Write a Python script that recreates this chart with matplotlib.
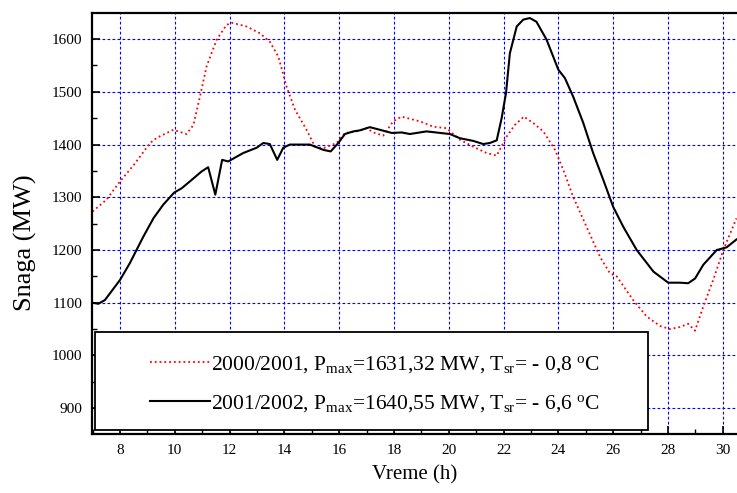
import matplotlib
matplotlib.use('Agg')
import matplotlib.pyplot as plt
from matplotlib.patches import Rectangle
from matplotlib.ticker import MultipleLocator

# Load curves (hour of day, MW)
hours_0001 = [7.0, 7.5, 8.0, 8.5, 9.1, 9.35, 9.95, 10.43, 10.68, 10.92,
              11.16, 11.53, 11.89, 12.08, 12.62, 13.11, 13.47, 13.78, 14.08, 14.39,
              14.81, 15.12, 15.42, 15.91, 16.21, 16.64, 17.0, 17.25, 17.61, 17.97,
              18.28, 18.95, 19.43, 19.92, 20.41, 20.89, 21.38, 21.75, 22.11, 22.41,
              22.74, 23.08, 23.45, 23.88, 24.18, 24.54, 25.03, 25.52, 25.88, 26.13,
              26.73, 27.22, 27.71, 28.07, 28.44, 28.74, 28.99, 29.29, 29.65, 30.02, 30.5]
load_0001 = [1273, 1295, 1330, 1361, 1403, 1413, 1428, 1420, 1437, 1491,
             1548, 1599, 1627, 1631, 1624, 1611, 1595, 1567, 1510, 1466,
             1428, 1396, 1393, 1403, 1422, 1425, 1431, 1423, 1417, 1444,
             1453, 1444, 1434, 1431, 1409, 1396, 1384, 1379, 1415, 1437,
             1453, 1441, 1425, 1390, 1352, 1301, 1244, 1187, 1156, 1150,
             1105, 1074, 1056, 1050, 1054, 1060, 1047, 1093, 1143, 1200, 1260]

hours_0102 = [7.0, 7.21, 7.45, 8.0, 8.36, 8.85, 9.22, 9.58, 9.98, 10.25,
              10.55, 10.98, 11.22, 11.48, 11.73, 11.95, 12.5, 12.99, 13.23, 13.47,
              13.74, 13.96, 14.2, 14.93, 15.42, 15.69, 15.97, 16.21, 16.52, 16.76,
              17.12, 17.49, 17.92, 18.28, 18.58, 19.19, 20.04, 20.41, 20.89, 21.26,
              21.5, 21.75, 21.93, 22.09, 22.23, 22.48, 22.72, 22.96, 23.2, 23.57,
              24.0, 24.24, 24.54, 24.91, 25.27, 25.64, 26.0, 26.37, 26.86, 27.47,
              28.01, 28.44, 28.74, 28.99, 29.29, 29.78, 30.14, 30.5]
load_0102 = [1100, 1098, 1105, 1143, 1175, 1225, 1260, 1286, 1309, 1317,
             1330, 1349, 1357, 1305, 1371, 1368, 1384, 1394, 1403, 1401,
             1371, 1394, 1400, 1400, 1390, 1387, 1403, 1420, 1425, 1427,
             1433, 1428, 1422, 1423, 1420, 1425, 1420, 1412, 1407, 1401,
             1403, 1408, 1450, 1498, 1573, 1624, 1637, 1640, 1633, 1599,
             1542, 1526, 1491, 1441, 1384, 1333, 1282, 1244, 1200, 1159,
             1138, 1138, 1137, 1146, 1172, 1200, 1205, 1220]

label_0001 = '2000/2001, P$_{max}$=1631,32 MW, T$_{sr}$= - 0,8 $^{o}$C'
label_0102 = '2001/2002, P$_{max}$=1640,55 MW, T$_{sr}$= - 6,6 $^{o}$C'

plt.rcParams['font.family'] = ['Liberation Serif', 'DejaVu Serif']
plt.rcParams['mathtext.default'] = 'regular'

fig = plt.figure(figsize=(7.37, 4.93), dpi=100)
ax = fig.add_axes([92 / 737, 59 / 493, 645 / 737, 420.7 / 493])

ax.plot(hours_0001, load_0001, color='#ff0000', linestyle=':', linewidth=1.3, label=label_0001)
ax.plot(hours_0102, load_0102, color='black', linestyle='-', linewidth=1.5, label=label_0102)

ax.set_xlim(6.98, 30.52)
ax.set_ylim(851, 1649)
ax.xaxis.set_major_locator(MultipleLocator(2))
ax.xaxis.set_minor_locator(MultipleLocator(1))
ax.yaxis.set_major_locator(MultipleLocator(100))
ax.yaxis.set_minor_locator(MultipleLocator(50))
ax.set_yticks(range(900, 1601, 100))

ax.grid(True, which='major', color='#0000ff', linestyle=(0, (2.5, 2)), linewidth=0.8)
ax.tick_params(which='both', direction='in', labelsize=11, top=False, right=False)
ax.tick_params(which='major', length=6, width=1.2, pad=7)
ax.tick_params(which='minor', length=3.5, width=1.0)

for side in ['left', 'bottom', 'top']:
    ax.spines[side].set_linewidth(1.6)
ax.spines['right'].set_visible(False)

ax.set_xlabel('Vreme (h)', fontsize=15, labelpad=6)
ax.set_ylabel('Snaga (MW)', fontsize=19)
ax.yaxis.set_label_coords(-0.085, 0.455)

# legend frame as in the original (box covering lower left of the plot)
frame = Rectangle((0.0047, 0.0095), 0.857, 0.233, transform=ax.transAxes,
                  facecolor='white', edgecolor='black', linewidth=1.3, zorder=5)
ax.add_patch(frame)
leg = ax.legend(loc='upper left', bbox_to_anchor=(0.09, 0.19), frameon=False,
                fontsize=15.5, borderaxespad=0, borderpad=0, handlelength=2.8,
                handletextpad=0.05, labelspacing=0.85)
leg.set_zorder(6)

plt.savefig('out.png', dpi=100)
plt.close()
